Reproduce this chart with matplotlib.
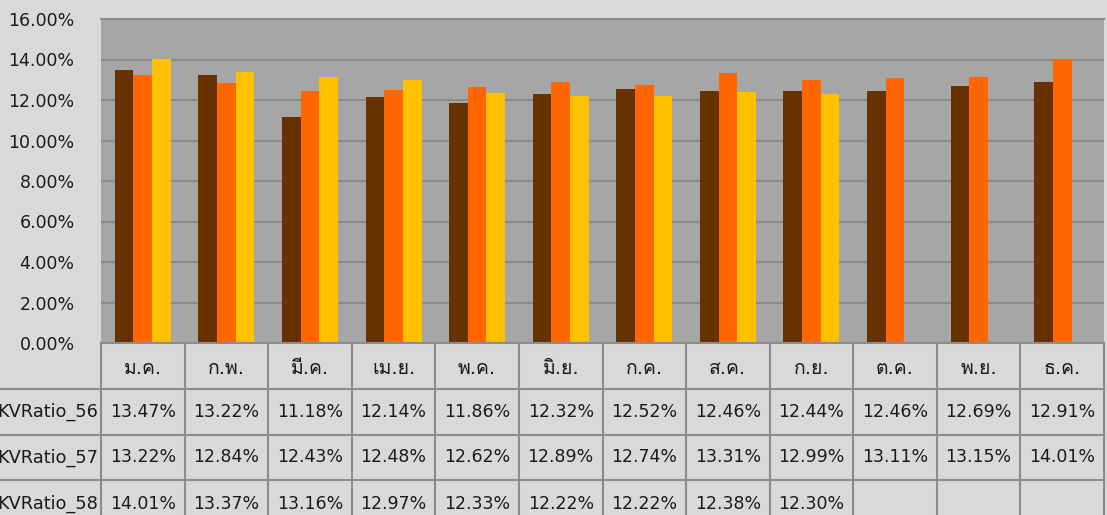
import matplotlib
matplotlib.use("Agg")
import matplotlib.pyplot as plt
from matplotlib import font_manager
from matplotlib.ft2font import FT2Font
import numpy as np

# ข้อมูล
months = ["ม.ค.", "ก.พ.", "มี.ค.", "เม.ย.", "พ.ค.", "มิ.ย.",
          "ก.ค.", "ส.ค.", "ก.ย.", "ต.ค.", "พ.ย.", "ธ.ค."]
series_names = ["KVRatio_56", "KVRatio_57", "KVRatio_58"]
kv56 = [13.47, 13.22, 11.18, 12.14, 11.86, 12.32, 12.52, 12.46, 12.44, 12.46, 12.69, 12.91]
kv57 = [13.22, 12.84, 12.43, 12.48, 12.62, 12.89, 12.74, 13.31, 12.99, 13.11, 13.15, 14.01]
kv58 = [14.01, 13.37, 13.16, 12.97, 12.33, 12.22, 12.22, 12.38, 12.30, None, None, None]
colors = ["#663300", "#ff6600", "#ffc000"]

# หาฟอนต์ที่มีอักษรไทย (ใช้เป็นตัวสำรอง)
thai_font = None
for f in font_manager.fontManager.ttflist:
    try:
        if 0x0E21 in FT2Font(f.fname).get_charmap():
            thai_font = f.name
            break
    except Exception:
        pass
families = ["DejaVu Sans", thai_font] if thai_font else ["DejaVu Sans"]
plt.rcParams["font.family"] = families
plt.rcParams["text.color"] = "#1a1a1a"

W, H = 1107, 515
fig = plt.figure(figsize=(W / 100, H / 100), dpi=100)
fig.patch.set_facecolor("#d9d9d9")

x0, x1 = 101, 1104
ytop, ybot = 19, 343
ax = fig.add_axes([x0 / W, 1 - ybot / H, (x1 - x0) / W, (ybot - ytop) / H])
ax.set_facecolor("#a6a6a6")

n = len(months)
x = np.arange(n)
bw = 0.223
all_series = [kv56, kv57, kv58]
for k, vals in enumerate(all_series):
    v = np.array([np.nan if a is None else a / 100 for a in vals])
    ax.bar(x + (k - 1) * bw, v, width=bw, color=colors[k], zorder=3)

ax.set_xlim(-0.5, n - 0.5)
ax.set_ylim(0, 0.16)
ticks = np.arange(0, 0.161, 0.02)
ax.set_yticks(ticks)
ax.set_yticklabels([f"{t * 100:.2f}%" for t in ticks], fontsize=12.5, color="#1a1a1a")
ax.tick_params(axis="y", length=0, pad=19)
ax.set_xticks([])
ax.grid(axis="y", color="#8a8a8a", linewidth=1.5, zorder=1)
for s in ["left", "right", "bottom"]:
    ax.spines[s].set_visible(False)
ax.spines["top"].set_color("#8a8a8a")
ax.spines["top"].set_linewidth(1.5)

# ตารางข้อมูลใต้กราฟ
tab = fig.add_axes([0, 0, 1, 1])
tab.set_xlim(0, W)
tab.set_ylim(H, 0)
tab.axis("off")
tab.patch.set_alpha(0)

cw = (x1 - x0) / n
row_y = [ybot, 389, 435, 480, 526]
line_kw = dict(color="#8c8c8c", linewidth=1.5, clip_on=False)

tab.plot([x0, x1], [row_y[0], row_y[0]], **line_kw)
for y in row_y[1:4]:
    tab.plot([0, x1], [y, y], **line_kw)
for i in range(n + 1):
    xx = x0 + i * cw
    tab.plot([xx, xx], [row_y[0], H], **line_kw)

for i, m in enumerate(months):
    tab.text(x0 + (i + 0.5) * cw, (row_y[0] + row_y[1]) / 2 + 2, m,
             ha="center", va="center", fontsize=14)

for r, (name, vals) in enumerate(zip(series_names, all_series)):
    yc = (row_y[r + 1] + row_y[r + 2]) / 2
    if r == 2:
        yc = row_y[3] + 24
    tab.text(98, yc, name, ha="right", va="center", fontsize=12.8)
    for i, v in enumerate(vals):
        if v is None:
            continue
        tab.text(x0 + (i + 0.5) * cw, yc, f"{v:.2f}%",
                 ha="center", va="center", fontsize=12.5)

fig.savefig("out.png", dpi=100, facecolor=fig.get_facecolor())
